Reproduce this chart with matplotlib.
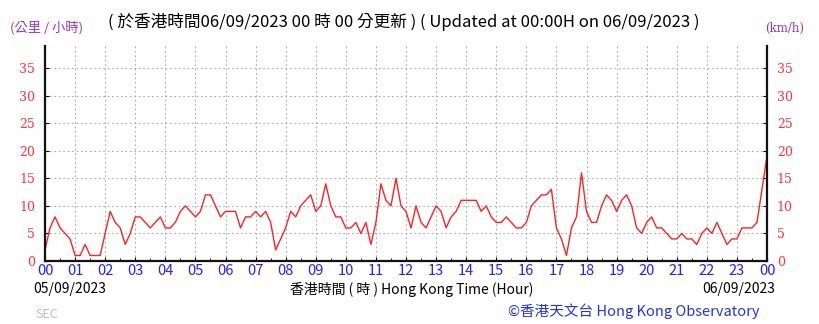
#!/usr/bin/env python3
# Hong Kong Observatory style wind speed chart (SEC station), 10-minute readings

import numpy as np
import matplotlib
matplotlib.use("Agg")
import matplotlib.pyplot as plt

plt.rcParams['font.family'] = ['Noto Sans CJK TC', 'DejaVu Sans']

# wind speed (km/h), every 10 minutes from 05/09/2023 00:00 to 06/09/2023 00:00
speed = [2, 6, 8, 6, 5, 4,
         1, 1, 3, 1, 1, 1,
         5, 9, 7, 6, 3, 5,
         8, 8, 7, 6, 7, 8,
         6, 6, 7, 9, 10, 9,
         8, 9, 12, 12, 10, 8,
         9, 9, 9, 6, 8, 8,
         9, 8, 9, 7, 2, 4,
         6, 9, 8, 10, 11, 12,
         9, 10, 14, 10, 8, 8,
         6, 6, 7, 5, 7, 3,
         7, 14, 11, 10, 15, 10,
         9, 6, 10, 7, 6, 8,
         10, 9, 6, 8, 9, 11,
         11, 11, 11, 9, 10, 8,
         7, 7, 8, 7, 6, 6,
         7, 10, 11, 12, 12, 13,
         6, 4, 1, 6, 8, 16,
         9, 7, 7, 10, 12, 11,
         9, 11, 12, 10, 6, 5,
         7, 8, 6, 6, 5, 4,
         4, 5, 4, 4, 3, 5,
         6, 5, 7, 5, 3, 4,
         4, 6, 6, 6, 7, 13,
         19]
hours = np.arange(len(speed)) / 6.0
hour_labels = [f"{h % 24:02d}" for h in range(25)]
y_ticks = [0, 5, 10, 15, 20, 25, 30, 35]

fig = plt.figure(figsize=(8.19, 3.24), dpi=100)
ax = fig.add_axes([45/819, 63/324, 722/819, 215/324])

ax.plot(hours, speed, color='#ff2222', lw=1.0)

ax.set_xlim(0, 24)
ax.set_ylim(0, 39)
ax.set_xticks(range(25))
ax.set_xticklabels(hour_labels, color='#2222ff', fontsize=10.5)
ax.set_xticks(np.arange(0.5, 24, 1), minor=True)
ax.set_yticks(y_ticks)
ax.set_yticklabels([str(v) for v in y_ticks], color='#ff3333', fontsize=9,
                   family='DejaVu Serif')
ax.tick_params(axis='x', which='major', length=3, direction='in', pad=2)
ax.tick_params(axis='x', which='minor', length=2, direction='in')
ax.tick_params(axis='y', which='both', length=3, direction='in',
               left=True, right=True, labelleft=True, labelright=True, pad=7)

ax.grid(True, color='#aaaaaa', linestyle=(0, (1.5, 2.5)), lw=0.8)
ax.spines['top'].set_visible(False)
for s in ['left', 'right', 'bottom']:
    ax.spines[s].set_linewidth(1.6)
    ax.spines[s].set_color('#111111')

# header texts
fig.text(10/819, 1 - 28/324, "(公里 / 小時)", color='#9933cc', fontsize=9.5,
         va='center', ha='left')
fig.text(108/819, 1 - 22/324,
         "( 於香港時間06/09/2023 00 時 00 分更新 ) ( Updated at 00:00H on 06/09/2023 )",
         color='black', fontsize=12, va='center', ha='left')
fig.text(804/819, 1 - 28/324, "(km/h)", color='#9933cc', fontsize=8.5,
         family='DejaVu Serif', va='center', ha='right')

# footer texts
fig.text(33/819, 1 - 289/324, "05/09/2023", fontsize=10, va='center', ha='left')
fig.text(412/819, 1 - 289/324, "香港時間 ( 時 ) Hong Kong Time (Hour)",
         fontsize=10, va='center', ha='center')
fig.text(775/819, 1 - 289/324, "06/09/2023", fontsize=10, va='center', ha='right')
fig.text(35/819, 1 - 314/324, "SEC", color='#bbbbbb', fontsize=9,
         va='center', ha='left')
fig.text(760/819, 1 - 311/324, "©香港天文台 Hong Kong Observatory",
         color='#2233ee', fontsize=10.5, va='center', ha='right')

fig.savefig("out.png", dpi=100)
